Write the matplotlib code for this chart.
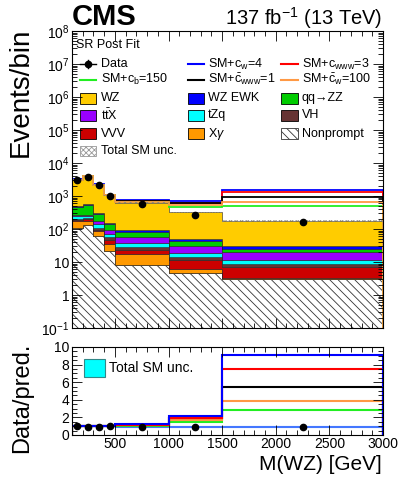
import numpy as np
import matplotlib
matplotlib.use("Agg")
import matplotlib.pyplot as plt
from matplotlib.patches import Rectangle
from matplotlib.lines import Line2D
from matplotlib.ticker import MultipleLocator, LogLocator, FuncFormatter, NullFormatter

plt.rcParams["font.family"] = ["Liberation Sans", "DejaVu Sans"]
plt.rcParams["mathtext.fontset"] = "custom"
plt.rcParams["mathtext.rm"] = "Liberation Sans"
plt.rcParams["mathtext.it"] = "Liberation Sans:italic"
plt.rcParams["hatch.linewidth"] = 0.6

# bins in M(WZ) [GeV]
edges = np.array([100, 200, 300, 400, 500, 1000, 1500, 3000])
centers = np.array([150, 250, 350, 450, 750, 1250, 2250])

# post-fit backgrounds, events per bin (bottom of the stack first)
nonprompt = np.array([111, 128, 63, 21, 8.4, 4.7, 2.95])
xgamma = np.array([61, 53, 22, 13, 8.5, 1.5, 0.35])
vvv = np.array([15, 19, 11, 14, 7, 5.1, 3.9])
vh = np.array([13, 15, 15, 8, 5, 2.4, 1.8])
tzq = np.array([40, 25, 35, 17, 9, 4.5, 2.9])
ttx = np.array([35, 35, 26, 23, 18, 13.4, 7.9])
qqzz = np.array([182, 275, 122, 41, 24, 11.1, 5.3])
wz_ewk = np.array([43, 40, 22, 13, 12, 7.7, 6.5])
wz = np.array([2660, 3390, 1904, 900, 528, 270, 140])

data = np.array([3100, 3800, 2100, 1020, 560, 275, 158])
sm_unc = np.array([0.03, 0.03, 0.03, 0.03, 0.04, 0.05, 0.06])

# (SM + EFT) / SM
r_cw = np.array([1.02, 1.02, 1.02, 1.03, 1.23, 2.15, 9.05])
r_cwww = np.array([1.0, 1.0, 1.0, 1.01, 1.12, 1.95, 7.45])
r_cb = np.array([1.0, 1.0, 1.0, 1.0, 1.04, 1.42, 2.85])
r_cwwwbar = np.array([1.0, 1.0, 1.0, 1.01, 1.14, 1.9, 5.45])
r_cwbar = np.array([1.0, 1.0, 1.0, 1.0, 1.09, 1.68, 3.9])

stack = [
    ("Nonprompt", nonprompt, "white"),
    ("X$\\gamma$", xgamma, "#ff9900"),
    ("VVV", vvv, "#cc0000"),
    ("VH", vh, "#663333"),
    ("tZq", tzq, "#00ffff"),
    ("t$\\bar{\\mathregular{t}}$X", ttx, "#9900ff"),
    ("qq\u2192ZZ", qqzz, "#00cc00"),
    ("WZ EWK", wz_ewk, "#0000ff"),
    ("WZ", wz, "#ffcc00"),
]

eft = [
    ("SM+c$_\\mathregular{w}$=4", r_cw, "#0000ff"),
    ("SM+c$_\\mathregular{www}$=3", r_cwww, "#ff0000"),
    ("SM+c$_\\mathregular{b}$=150", r_cb, "#22ee22"),
    ("SM+$\\mathregular{\\bar{c}_{www}}$=1", r_cwwwbar, "black"),
    ("SM+$\\mathregular{\\bar{c}_{w}}$=100", r_cwbar, "#ff9944"),
]

fig = plt.figure(figsize=(3.99, 4.83), dpi=100)
ax = fig.add_axes([0.1805, 0.3209, 0.7794, 0.6149])
rax = fig.add_axes([0.1805, 0.0994, 0.7794, 0.1822])

# stacked histogram
base = np.full(len(centers), 1e-3)
for name, vals, col in stack:
    top = base + vals
    if name == "Nonprompt":
        ax.stairs(top, edges, baseline=base, fill=True, facecolor="white",
                  edgecolor="#333333", hatch="\\\\\\\\", lw=0.6)
    else:
        ax.stairs(top, edges, baseline=base, fill=True, facecolor=col,
                  edgecolor="#222222", lw=0.4)
    base = top
total = base

# EFT curves on top of the stack
for name, r, col in [eft[0], eft[1], eft[3], eft[2], eft[4]]:
    ax.stairs(total * r, edges, color=col, lw=1.3)

ax.stairs(total * (1 + sm_unc), edges, baseline=total * (1 - sm_unc), fill=True,
          facecolor="none", edgecolor="#888888", hatch="xxxxxx", lw=0)

ax.plot(centers, data, "o", color="black", ms=4.5, zorder=5)

ax.set_yscale("log")
ax.set_ylim(0.1, 1e8)
ax.set_xlim(100, 3000)


def log_fmt(v, pos):
    e = int(round(np.log10(v)))
    if e == 0:
        return "1"
    if e == 1:
        return "10"
    return "10$^{%d}$" % e if e > 0 else "10$^{\u2212%d}$" % (-e)


ax.yaxis.set_major_locator(LogLocator(base=10, numticks=20))
ax.yaxis.set_minor_locator(LogLocator(base=10, subs=np.arange(2, 10), numticks=20))
ax.yaxis.set_major_formatter(FuncFormatter(log_fmt))
ax.yaxis.set_minor_formatter(NullFormatter())
ax.xaxis.set_major_locator(MultipleLocator(500))
ax.xaxis.set_minor_locator(MultipleLocator(100))
ax.tick_params(axis="x", labelbottom=False)
for a in (ax, rax):
    a.tick_params(which="both", direction="in", top=True, right=True, labelsize=10, pad=2)
    a.tick_params(which="major", length=7, width=0.6)
    a.tick_params(which="minor", length=3.5, width=0.6)
    for s in a.spines.values():
        s.set_linewidth(0.8)

# legend, drawn by hand in axes coordinates
ax.text(0.013, 0.953, "SR Post Fit", transform=ax.transAxes, fontsize=9, va="center")
col_box = [0.0514, 0.399, 0.699]
col_txt = [0.092, 0.438, 0.739]
rows = [0.889, 0.836, 0.774, 0.716, 0.654, 0.596]
bw, bh = 0.053, 0.037


def leg_text(c, r, label):
    ax.text(col_txt[c], rows[r], label, transform=ax.transAxes, fontsize=9, va="center")


def leg_line(c, r, col, label):
    x0 = col_box[c]
    ax.add_line(Line2D([x0 - bw / 2, x0 + bw / 2], [rows[r]] * 2, color=col, lw=1.5,
                       transform=ax.transAxes))
    leg_text(c, r, label)


def leg_box(c, r, col, label, hatch=None, edge="black"):
    x0 = col_box[c]
    ax.add_patch(Rectangle((x0 - bw / 2, rows[r] - bh / 2), bw, bh, transform=ax.transAxes,
                           facecolor=col, edgecolor=edge, lw=0.6, hatch=hatch))
    leg_text(c, r, label)


x0 = col_box[0]
ax.add_line(Line2D([x0 - bw / 2, x0 + bw / 2], [rows[0]] * 2, color="black", lw=1,
                   transform=ax.transAxes))
ax.add_line(Line2D([x0, x0], [rows[0] - 0.012, rows[0] + 0.012], color="black", lw=1,
                   transform=ax.transAxes))
ax.plot([x0], [rows[0]], "o", color="black", ms=4.5, transform=ax.transAxes)
leg_text(0, 0, "Data")
leg_line(1, 0, eft[0][2], eft[0][0])
leg_line(2, 0, eft[1][2], eft[1][0])
leg_line(0, 1, eft[2][2], eft[2][0])
leg_line(1, 1, eft[3][2], eft[3][0])
leg_line(2, 1, eft[4][2], eft[4][0])
boxes = [stack[8], stack[7], stack[6], stack[5], stack[4], stack[3], stack[2], stack[1]]
for i, (name, vals, col) in enumerate(boxes):
    leg_box(i % 3, 2 + i // 3, col, name)
leg_box(2, 4, "white", "Nonprompt", hatch="\\\\\\\\", edge="#333333")
leg_box(0, 5, "white", "Total SM unc.", hatch="xxxxxx", edge="#999999")

# ratio panel
rax.stairs(1 + sm_unc, edges, baseline=1 - sm_unc, fill=True, facecolor="#00ffff",
           edgecolor="#4477ff", lw=0.8)
for name, r, col in [eft[2], eft[4], eft[3], eft[1], eft[0]]:
    rax.stairs(r, edges, color=col, lw=1.5)
rax.plot(centers, data / total, "o", color="black", ms=4.5, zorder=5)
rax.set_xlim(100, 3000)
rax.set_ylim(0, 10)
rax.yaxis.set_major_locator(MultipleLocator(2))
rax.yaxis.set_minor_locator(MultipleLocator(0.5))
rax.xaxis.set_major_locator(MultipleLocator(500))
rax.xaxis.set_minor_locator(MultipleLocator(100))
rax.set_xticks([500, 1000, 1500, 2000, 2500, 3000])
rax.tick_params(axis="x", pad=1.5)
rax.add_patch(Rectangle((0.039, 0.66), 0.067, 0.2, transform=rax.transAxes,
                        facecolor="#00ffff", edgecolor="#338888", lw=0.8))
rax.text(0.12, 0.76, "Total SM unc.", transform=rax.transAxes, fontsize=10, va="center")

# labels and header
fig.text(0.053, 1 - 92 / 483, "Events/bin", rotation=90, ha="center", va="center", fontsize=20)
fig.text(0.055, 1 - 398 / 483, "Data/pred.", rotation=90, ha="center", va="center", fontsize=17)
fig.text(382 / 399, 1 - 464 / 483, "M(WZ) [GeV]", ha="right", va="center", fontsize=15)
fig.text(72 / 399, 1 - 25 / 483, "CMS", ha="left", va="baseline", fontsize=21, weight="bold")
fig.text(382 / 399, 1 - 25 / 483, "137 fb$^{-1}$ (13 TeV)", ha="right", va="baseline",
         fontsize=14.5)

fig.savefig("out.png", dpi=100)
